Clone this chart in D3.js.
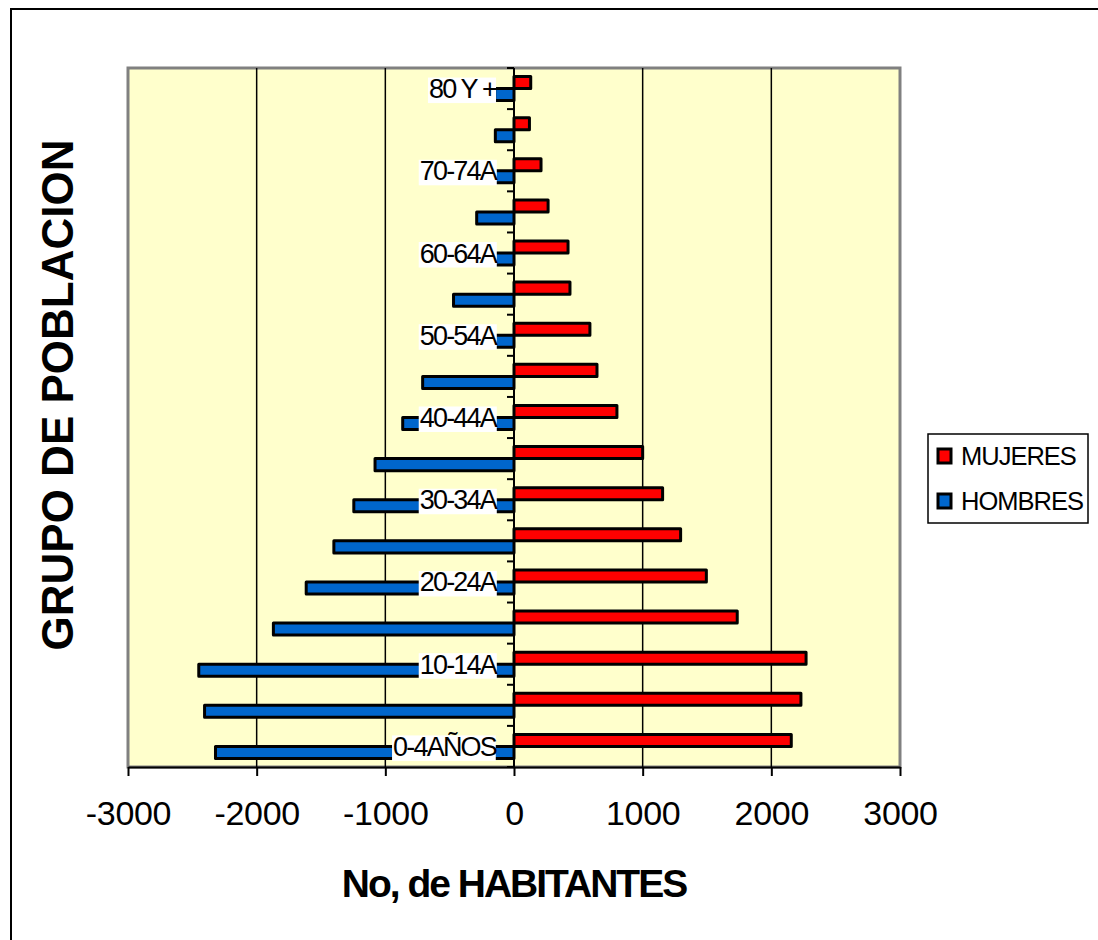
<!DOCTYPE html>
<html>
<head>
<meta charset="utf-8">
<script src="https://cdn.jsdelivr.net/npm/d3@7"></script>
<style>
  body { margin: 0; background: #fff; }
  svg { display: block; font-family: "Liberation Sans", Arial, sans-serif; }
</style>
</head>
<body>
<svg width="1098" height="940"></svg>
<script>
// grupos de edad, de abajo hacia arriba
let grupos = ["0-4AÑOS", "5-9A", "10-14A", "15-19A", "20-24A", "25-29A", "30-34A", "35-39A",
    "40-44A", "45-49A", "50-54A", "55-59A", "60-64A", "65-69A", "70-74A", "75-79A", "80 Y +"];
let mujeres = [2155, 2230, 2270, 1735, 1495, 1295, 1155, 1000, 800, 645, 590, 435, 420, 265, 210, 120, 130];
let hombres = [-2320, -2405, -2450, -1870, -1615, -1400, -1245, -1080, -865, -710, -560, -470, -380, -290, -210, -145, -150];
let ticksX = [-3000, -2000, -1000, 0, 1000, 2000, 3000];
let series = ["MUJERES", "HOMBRES"];
let colores = ["#ff0000", "#0066cc"];

let svg = d3.select("svg");

// cadre general
svg.append("rect")
    .attr("x", 11).attr("y", 9)
    .attr("width", 1100).attr("height", 940)
    .attr("fill", "#fff").attr("stroke", "#000").attr("stroke-width", 2);

let gauche = 128, droite = 900, haut = 68, bas = 767;

let x = d3.scaleLinear().domain([-3000, 3000]).range([gauche, droite]);
let y = d3.scaleBand().domain(grupos.slice().reverse()).range([haut, bas]);
// deux barres collées au centre de chaque groupe
let ySous = d3.scaleBand().domain(series).range([0, y.bandwidth()]).paddingOuter(0.71);

// zone de tracé
svg.append("rect")
    .attr("x", gauche).attr("y", haut)
    .attr("width", droite - gauche).attr("height", bas - haut)
    .attr("fill", "#ffffcc").attr("stroke", "#808080").attr("stroke-width", 3);

// lignes de grille
svg.append("g")
    .selectAll("line")
    .data(ticksX.filter(d => d != 0 && Math.abs(d) < 3000))
    .enter()
    .append("line")
    .attr("x1", d => x(d)).attr("x2", d => x(d))
    .attr("y1", haut).attr("y2", bas)
    .attr("stroke", "#000").attr("stroke-width", 1.5);

// données en lignes
let lignes = grupos.map((g, i) => ({ grupo: g, valores: [mujeres[i], hombres[i]] }));

let groupes = svg.append("g")
    .selectAll("g")
    .data(lignes)
    .enter()
    .append("g")
    .attr("transform", d => "translate(0," + y(d.grupo) + ")");

groupes.selectAll("rect")
    .data(d => d.valores.map((v, j) => ({ serie: series[j], v: v, c: colores[j] })))
    .enter()
    .append("rect")
    .attr("x", d => Math.min(x(0), x(d.v)))
    .attr("width", d => Math.abs(x(d.v) - x(0)))
    .attr("y", d => ySous(d.serie))
    .attr("height", ySous.bandwidth())
    .attr("fill", d => d.c)
    .attr("stroke", "#000").attr("stroke-width", 3)
    .attr("stroke-linejoin", "round");

// axe vertical (zéro) avec graduations entre groupes
let axeY = svg.append("g");
axeY.append("line")
    .attr("x1", x(0)).attr("x2", x(0))
    .attr("y1", haut).attr("y2", bas)
    .attr("stroke", "#000").attr("stroke-width", 2);
axeY.selectAll("line.tick")
    .data(d3.range(grupos.length + 1))
    .enter()
    .append("line")
    .attr("class", "tick")
    .attr("x1", x(0) - 7).attr("x2", x(0))
    .attr("y1", i => haut + i * y.step())
    .attr("y2", i => haut + i * y.step())
    .attr("stroke", "#000").attr("stroke-width", 2);

// étiquettes des groupes (une sur deux), fond blanc
let etiquettes = svg.append("g")
    .selectAll("g")
    .data(grupos.filter((g, i) => i % 2 == 0))
    .enter()
    .append("g");
etiquettes.append("text")
    .attr("x", x(0) - 18)
    .attr("y", d => y(d) + y.bandwidth() / 2 + 9.5)
    .attr("text-anchor", "end")
    .attr("font-size", 27)
    .attr("letter-spacing", -1.8)
    .attr("fill", "#000")
    .text(d => d);
etiquettes.each(function (d) {
    let g = d3.select(this);
    let b = g.select("text").node().getBBox();
    g.insert("rect", "text")
        .attr("x", b.x - 1).attr("y", y(d) + y.bandwidth() / 2 - 11)
        .attr("width", b.width).attr("height", 25.5)
        .attr("fill", "#fff");
});

// axe horizontal
let axeX = svg.append("g")
    .attr("transform", "translate(0," + bas + ")")
    .call(d3.axisBottom(x).tickValues(ticksX).tickFormat(d => String(d))
        .tickSize(9).tickSizeOuter(0).tickPadding(25));
axeX.select(".domain").attr("stroke", "#000").attr("stroke-width", 2);
axeX.selectAll(".tick line").attr("stroke", "#000").attr("stroke-width", 2);
axeX.selectAll(".tick text")
    .attr("font-size", 34)
    .attr("font-family", "Liberation Sans, Arial, sans-serif")
    .attr("letter-spacing", -0.3)
    .attr("fill", "#000");

// titres des axes
svg.append("text")
    .attr("x", 514).attr("y", 897)
    .attr("text-anchor", "middle")
    .attr("font-size", 39)
    .attr("font-weight", "bold")
    .attr("letter-spacing", -2)
    .text("No, de HABITANTES");

svg.append("text")
    .attr("transform", "translate(73,395) rotate(-90)")
    .attr("text-anchor", "middle")
    .attr("font-size", 44)
    .attr("font-weight", "bold")
    .text("GRUPO DE POBLACION");

// légende
let legende = svg.append("g");
legende.append("rect")
    .attr("x", 928).attr("y", 434)
    .attr("width", 160).attr("height", 89)
    .attr("fill", "#fff").attr("stroke", "#000").attr("stroke-width", 1.5);
let items = legende.selectAll("g")
    .data(series)
    .enter()
    .append("g")
    .attr("transform", (d, i) => "translate(0," + (456 + i * 45) + ")");
items.append("rect")
    .attr("x", 938).attr("y", -7)
    .attr("width", 13).attr("height", 14)
    .attr("fill", (d, i) => colores[i])
    .attr("stroke", "#000").attr("stroke-width", 3);
items.append("text")
    .attr("x", 961).attr("y", 9)
    .attr("font-size", 25.5)
    .attr("letter-spacing", -1)
    .text(d => d);
</script>
</body>
</html>
